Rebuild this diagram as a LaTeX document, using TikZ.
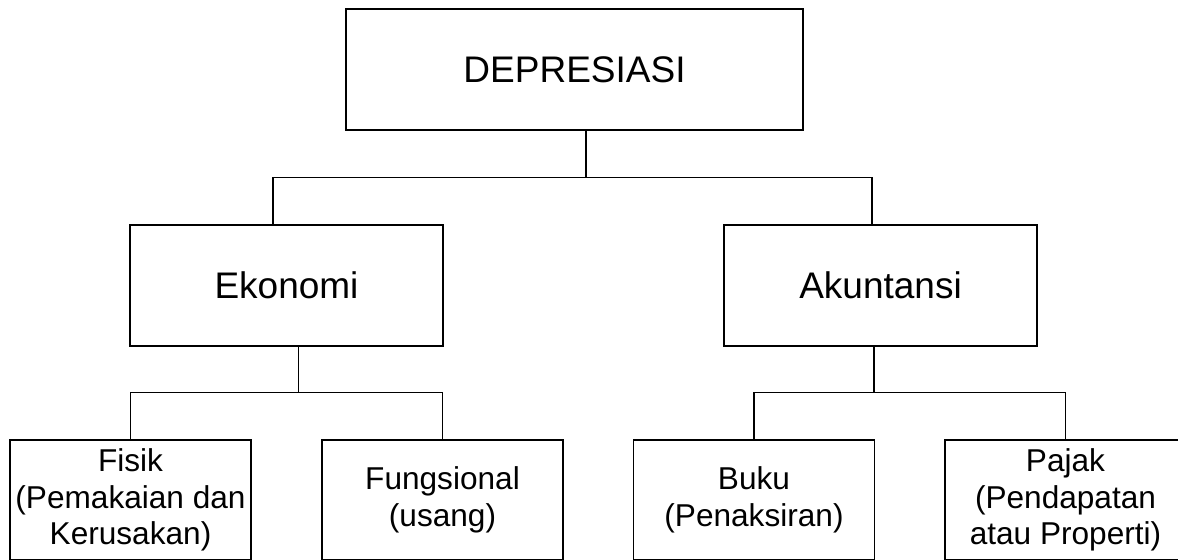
\documentclass[tikz,border=0pt]{standalone}
\usepackage{fontspec}
\setmainfont{Liberation Sans}
\tikzset{box/.style={draw, rectangle, line width=0.85pt, align=center, inner sep=0pt},
  big box/.style={box, font=\fontsize{18.5}{22}\selectfont, minimum height=60.5pt},
  small box/.style={box, font=\fontsize{15.8}{18.3}\selectfont, minimum width=120.5pt, minimum height=60pt},
  link/.style={line width=0.6pt},}

\begin{document}
\begin{tikzpicture}[x=0.5pt,y=-0.5pt]
   \useasboundingbox (0,0) rectangle (1178,559);
   \node[big box, minimum width=228.5pt] (dep) at (574.5,69.5) {DEPRESIASI};
   \node[big box, minimum width=156.5pt] (eko) at (286.5,285.5) {Ekonomi};
   \node[big box, minimum width=156.5pt] (akt) at (880.5,285.5) {Akuntansi};
   \node[small box] (fis) at (130.5,500) {Fisik\\(Pemakaian dan\\Kerusakan)};
   \node[small box] (fun) at (442.5,500) {Fungsional\\(usang)};
   \node[small box] (buk) at (754,500) {Buku\\(Penaksiran)};
   \node[small box] (paj) at (1065.5,500) {Pajak\\(Pendapatan\\atau Properti)};

    \draw[link] ([xshift=5.75pt]dep.south) -- ++(0,47) coordinate (tj);
    \draw[link] ([xshift=-6.75pt]eko.north) |- (tj) -| ([xshift=-4.25pt]akt.north);
    \draw[link] ([xshift=6pt]eko.south) -- ++(0,46) coordinate (ej);
    \draw[link] (fis.north) |- (ej) -| (fun.north);
    \draw[link] ([xshift=-3.25pt]akt.south) -- ++(0,46) coordinate (aj);
    \draw[link] (buk.north) |- (aj) -| (paj.north);
  \end{tikzpicture}
\end{document}
